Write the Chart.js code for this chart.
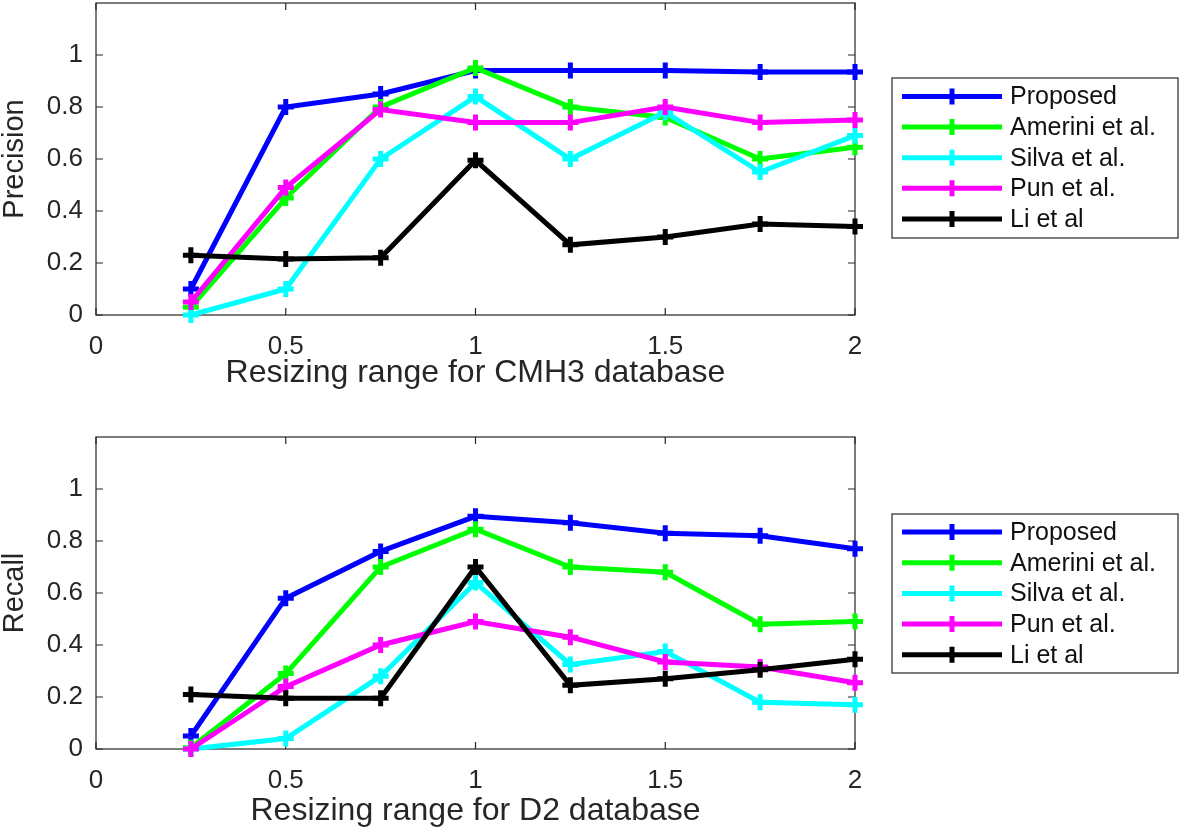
<!DOCTYPE html>
<html>
<head>
<meta charset="utf-8">
<script src="https://cdn.jsdelivr.net/npm/chart.js@4.4.1/dist/chart.umd.min.js"></script>
<style>
html,body{margin:0;padding:0;background:#fff;}
.panel{position:absolute;left:0;}
#topPanel{top:0;}
#bottomPanel{top:416px;}
</style>
</head>
<body>
<div class="panel" id="topPanel"><canvas id="chartPrecision" width="1181" height="416"></canvas></div>
<div class="panel" id="bottomPanel"><canvas id="chartRecall" width="1181" height="417"></canvas></div>
<script>
// resizing range (x values)
const resizeRange = [0.25, 0.5, 0.75, 1, 1.25, 1.5, 1.75, 2];
const methodNames = ["Proposed", "Amerini et al.", "Silva et al.", "Pun et al.", "Li et al"];
const methodColors = ["#0000ff", "#00ff00", "#00ffff", "#ff00ff", "#000000"];

// precision, CMH3 database
const precProposed = [0.10, 0.80, 0.85, 0.94, 0.94, 0.94, 0.935, 0.935];
const precAmerini  = [0.03, 0.45, 0.80, 0.95, 0.80, 0.76, 0.60, 0.645];
const precSilva    = [0.00, 0.10, 0.60, 0.84, 0.60, 0.78, 0.55, 0.69];
const precPun      = [0.05, 0.49, 0.79, 0.74, 0.74, 0.80, 0.74, 0.75];
const precLi       = [0.23, 0.215, 0.22, 0.595, 0.27, 0.30, 0.35, 0.34];

// recall, D2 database
const recProposed = [0.05, 0.58, 0.76, 0.895, 0.87, 0.83, 0.82, 0.77];
const recAmerini  = [0.005, 0.29, 0.70, 0.845, 0.70, 0.68, 0.48, 0.49];
const recSilva    = [0.00, 0.04, 0.28, 0.64, 0.325, 0.375, 0.18, 0.17];
const recPun      = [0.00, 0.24, 0.40, 0.49, 0.43, 0.335, 0.315, 0.255];
const recLi       = [0.21, 0.195, 0.195, 0.70, 0.245, 0.27, 0.305, 0.345];

const xTicks = [0, 0.5, 1, 1.5, 2];
const yTicks = [0, 0.2, 0.4, 0.6, 0.8, 1];

const FONT = "'Liberation Sans', Arial, sans-serif";
const INK = "#262626";

// box around the plot area with inward tick marks (MATLAB look)
const boxAxes = {
  id: "boxAxes",
  beforeDatasetsDraw(chart){
    const {ctx, chartArea:a, scales:{x, y}} = chart;
    const tl = 7;
    ctx.save();
    ctx.strokeStyle = INK;
    ctx.lineWidth = 1.2;
    ctx.strokeRect(a.left, a.top, a.right - a.left, a.bottom - a.top);
    ctx.beginPath();
    x.ticks.forEach(t => {
      const px = x.getPixelForValue(t.value);
      ctx.moveTo(px, a.bottom); ctx.lineTo(px, a.bottom - tl);
      ctx.moveTo(px, a.top); ctx.lineTo(px, a.top + tl);
    });
    y.ticks.forEach(t => {
      const py = y.getPixelForValue(t.value);
      ctx.moveTo(a.left, py); ctx.lineTo(a.left + tl, py);
      ctx.moveTo(a.right, py); ctx.lineTo(a.right - tl, py);
    });
    ctx.stroke();
    ctx.restore();
  }
};

// boxed legend with line + cross sample
const boxLegend = {
  id: "boxLegend",
  afterDraw(chart, args, opts){
    const {ctx} = chart;
    ctx.save();
    ctx.fillStyle = "#fff";
    ctx.fillRect(opts.left, opts.top, opts.width, opts.height);
    ctx.strokeStyle = INK;
    ctx.lineWidth = 1.2;
    ctx.strokeRect(opts.left, opts.top, opts.width, opts.height);
    chart.data.datasets.forEach((ds, i) => {
      const yy = opts.top + opts.firstRow + i * opts.rowGap;
      const x0 = opts.left + 10, x1 = opts.left + 110, xm = (x0 + x1) / 2;
      ctx.strokeStyle = ds.borderColor;
      ctx.lineWidth = 5;
      ctx.beginPath();
      ctx.moveTo(x0, yy); ctx.lineTo(x1, yy);
      ctx.moveTo(xm, yy - 8); ctx.lineTo(xm, yy + 8);
      ctx.stroke();
      ctx.fillStyle = "#111";
      ctx.font = "25px " + FONT;
      ctx.textBaseline = "middle";
      ctx.textAlign = "left";
      ctx.fillText(ds.label, opts.left + 118, yy + 1);
    });
    ctx.restore();
  }
};

function makeSets(seriesList){
  return seriesList.map((vals, i) => ({
    label: methodNames[i],
    data: resizeRange.map((xv, k) => ({x: xv, y: vals[k]})),
    borderColor: methodColors[i],
    backgroundColor: methodColors[i],
    borderWidth: 5,
    pointStyle: "cross",
    pointRadius: 8,
    pointBorderWidth: 5,
    pointHoverRadius: 8,
    tension: 0,
    clip: false,
    order: seriesList.length - i
  }));
}

function noPad(s){
  s.paddingTop = 0; s.paddingBottom = 0; s.paddingLeft = 0; s.paddingRight = 0;
}

function makeChart(id, seriesList, yLabel, xLabel, cfg){
  return new Chart(document.getElementById(id), {
    type: "line",
    data: {datasets: makeSets(seriesList)},
    options: {
      responsive: false,
      animation: false,
      events: [],
      layout: {autoPadding: false, padding: {top: cfg.top, right: 326, left: 0, bottom: 0}},
      plugins: {
        legend: {display: false},
        tooltip: {enabled: false},
        boxLegend: cfg.legend
      },
      scales: {
        x: {
          type: "linear",
          min: 0, max: 2,
          afterBuildTicks: s => { s.ticks = xTicks.map(v => ({value: v})); },
          afterFit: s => { s.height = cfg.xHeight; noPad(s); },
          grid: {display: false, drawTicks: false},
          border: {display: false},
          ticks: {
            padding: 16,
            color: INK,
            font: {family: FONT, size: 26},
            callback: v => String(Math.round(v * 10) / 10)
          },
          title: {
            display: true, text: xLabel, color: INK,
            font: {family: FONT, size: 32, lineHeight: 1},
            padding: {top: 0, bottom: cfg.xTitlePad}
          }
        },
        y: {
          type: "linear",
          min: 0, max: 1.2,
          afterBuildTicks: s => { s.ticks = yTicks.map(v => ({value: v})); },
          afterFit: s => { s.width = 96; noPad(s); },
          grid: {display: false, drawTicks: false},
          border: {display: false},
          ticks: {
            padding: 13,
            color: INK,
            font: {family: FONT, size: 26},
            callback: v => String(Math.round(v * 10) / 10)
          },
          title: {
            display: true, text: yLabel, color: INK,
            font: {family: FONT, size: 29, lineHeight: 1},
            padding: 0
          }
        }
      }
    },
    plugins: [boxAxes, boxLegend]
  });
}

makeChart("chartPrecision",
  [precProposed, precAmerini, precSilva, precPun, precLi],
  "Precision", "Resizing range for CMH3 database",
  {top: 3, xHeight: 101, xTitlePad: 27,
   legend: {left: 892, top: 78, width: 286, height: 160, firstRow: 18.5, rowGap: 30.6}});

makeChart("chartRecall",
  [recProposed, recAmerini, recSilva, recPun, recLi],
  "Recall", "Resizing range for D2 database",
  {top: 21, xHeight: 84, xTitlePad: 6,
   legend: {left: 892, top: 98, width: 286, height: 159, firstRow: 18, rowGap: 30.7}});
</script>
</body>
</html>
